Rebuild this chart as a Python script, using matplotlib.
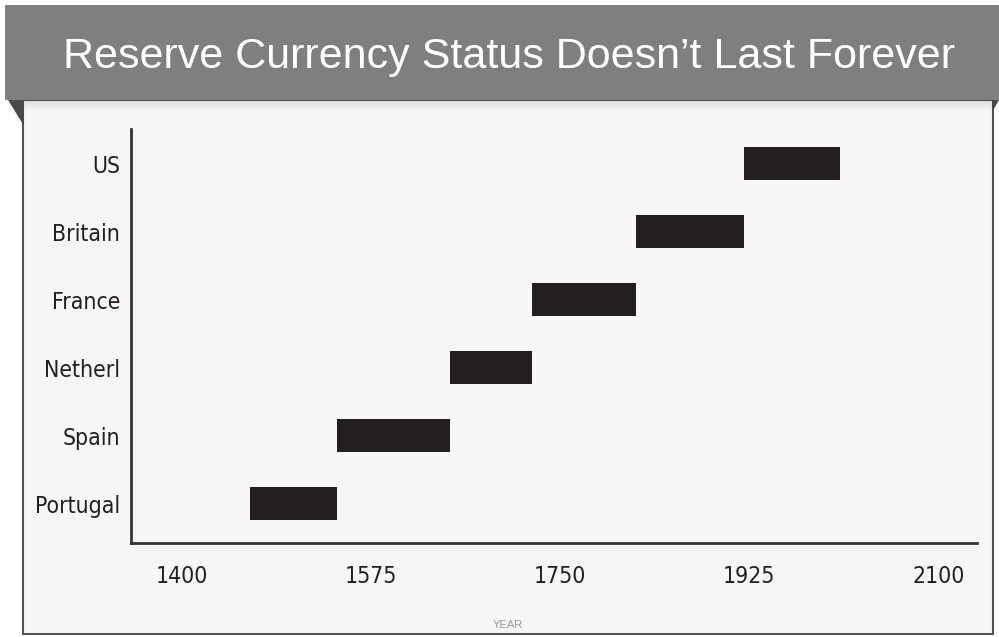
import matplotlib
matplotlib.use("Agg")
import matplotlib.pyplot as plt
from matplotlib.patches import Rectangle, Polygon

countries = ["Portugal", "Spain", "Netherl", "France", "Britain", "US"]
start_year = [1463, 1544, 1648, 1724, 1820, 1920]
end_year = [1544, 1648, 1724, 1820, 1920, 2009]
xticks = [1400, 1575, 1750, 1925, 2100]
title = "Reserve Currency Status Doesn\u2019t Last Forever"
xlabel = "YEAR"

FONT = ["Liberation Sans", "DejaVu Sans"]
plt.rcParams["font.family"] = FONT

W, H = 999, 637
fig = plt.figure(figsize=(W / 100, H / 100), dpi=100)
fig.patch.set_facecolor("white")


def fx(x):
    return x / W


def fy(y):
    return 1 - y / H


# panel
fig.patches.append(Rectangle((fx(23), fy(634)), fx(993 - 23), (634 - 100) / H,
                             transform=fig.transFigure, facecolor="#f6f6f6",
                             edgecolor="#555555", linewidth=1.5, zorder=-3))
# shadow under title band
for i in range(10):
    a = 0.25 * (1 - i / 10)
    fig.patches.append(Rectangle((fx(23), fy(101 + i)), fx(993 - 23), 1 / H,
                                 transform=fig.transFigure, facecolor="black",
                                 alpha=a * 0.4, edgecolor="none", zorder=-2))
# folds
fig.patches.append(Polygon([(fx(8), fy(100)), (fx(24), fy(100)), (fx(24), fy(126))],
                           closed=True, transform=fig.transFigure,
                           facecolor="#4a4a4a", edgecolor="none", zorder=-1))
fig.patches.append(Polygon([(fx(992), fy(100)), (fx(999), fy(100)), (fx(992), fy(112))],
                           closed=True, transform=fig.transFigure,
                           facecolor="#4a4a4a", edgecolor="none", zorder=-1))
# title band
fig.patches.append(Rectangle((fx(5), fy(100)), fx(999 - 5), (100 - 5) / H,
                             transform=fig.transFigure, facecolor="#7f7f7f",
                             edgecolor="none", zorder=-1))
fig.text(fx(509), fy(57), title, color="white", fontsize=31, ha="center",
         va="center", zorder=4)

ax = fig.add_axes([fx(131), fy(543), fx(976.7 - 131), (543 - 129) / H])
ax.set_zorder(5)
ax.set_facecolor("none")
ypos = list(range(len(countries)))
widths = [e - s for s, e in zip(start_year, end_year)]
ax.barh(ypos, widths, left=start_year, height=0.485, color="#231f20")
ax.set_xlim(1353.3, 2135.6)
ax.set_ylim(-0.58, 5.51)
ax.set_xticks(xticks)
ax.set_xticklabels([str(t) for t in xticks])
ax.set_yticks(ypos)
ax.set_yticklabels(countries)
for s in ["top", "right"]:
    ax.spines[s].set_visible(False)
for s in ["left", "bottom"]:
    ax.spines[s].set_color("#333333")
    ax.spines[s].set_linewidth(2)
ax.tick_params(axis="both", length=0, colors="#231f20")
ax.tick_params(axis="x", pad=16)
ax.tick_params(axis="y", pad=8)
for lab in ax.get_xticklabels() + ax.get_yticklabels():
    lab.set_family("DejaVu Sans")
    lab.set_stretch("condensed")
    lab.set_fontsize(16.5)
fig.text(fx(508), fy(625), xlabel, color="#999999", fontsize=8, ha="center",
         va="center")

fig.savefig("out.png", dpi=100, facecolor="white")
